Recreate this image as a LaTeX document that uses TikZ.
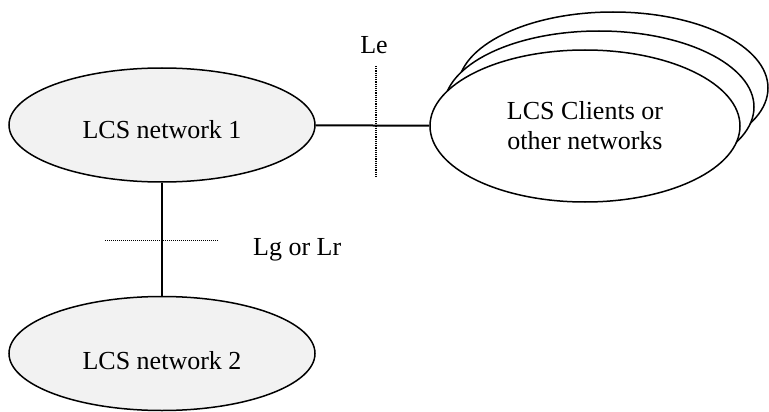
\documentclass[tikz,border=0pt]{standalone}
\usepackage{fontspec}
\setmainfont{Liberation Serif}
\usetikzlibrary{shapes.geometric}
\definecolor{netgray}{HTML}{F2F2F2}
\tikzset{
  netbox/.style={ellipse, draw=black, line width=1.5pt, fill=netgray, inner sep=0pt,
    minimum width=306pt, minimum height=114pt},
  clibox/.style={ellipse, draw=black, line width=1.5pt, fill=white, inner sep=0pt,
    minimum width=310pt, minimum height=152pt, align=center, font=\fontsize{26}{30}\selectfont},
  lbl/.style={font=\fontsize{26}{30}\selectfont, inner sep=0pt},
  link/.style={draw=black, line width=2pt},
  refpt/.style={draw=black, line width=1.5pt, dash pattern=on 1.2pt off 1pt},
  refpt2/.style={draw=black, line width=0.8pt, dash pattern=on 1pt off 1pt}
}
\begin{document}
\begin{tikzpicture}[x=1pt, y=-1pt]
\useasboundingbox (0,0) rectangle (769,412);
% clients stack
\node[clibox] (cli3) at (613,88) {};
\node[clibox] (cli2) at (599,107) {};
\node[clibox] (cli) at (585,126) {LCS Clients or\\other networks};
% networks
\node[netbox] (net1) at (162,125) {};
\node[lbl, anchor=base] (t1) at ([yshift=-14pt]net1.center) {LCS network 1};
\node[netbox] (net2) at (162,353.5) {};
\node[lbl, anchor=base] (t2) at ([yshift=-15.5pt]net2.center) {LCS network 2};
% connectors
\draw[link] (net1) -- (cli);
\draw[link] (net1) -- (net2);
% reference points
\coordinate (le1) at (376,66);
\coordinate (le2) at (376,177);
\draw[refpt] (le1) -- (le2);
\node[lbl, anchor=base] (le) at (374,54) {Le};
\coordinate (lg1) at (105,240);
\coordinate (lg2) at (218,240);
\draw[refpt2] (lg1) -- (lg2);
\node[lbl, anchor=base west] (lg) at (253,255) {Lg or Lr};
\end{tikzpicture}
\end{document}
